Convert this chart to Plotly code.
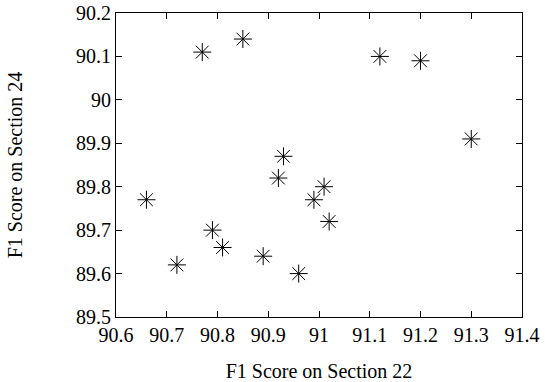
import plotly.graph_objects as go

x_vals = [90.66, 90.72, 90.77, 90.79, 90.81, 90.85, 90.89, 90.92, 90.93, 90.96, 90.99, 91.01, 91.02, 91.12, 91.20, 91.30]
y_vals = [89.77, 89.62, 90.11, 89.70, 89.66, 90.14, 89.64, 89.82, 89.87, 89.60, 89.77, 89.80, 89.72, 90.10, 90.09, 89.91]
x_ticks = [90.6, 90.7, 90.8, 90.9, 91.0, 91.1, 91.2, 91.3, 91.4]
x_tick_text = ["90.6", "90.7", "90.8", "90.9", "91", "91.1", "91.2", "91.3", "91.4"]
y_ticks = [89.5, 89.6, 89.7, 89.8, 89.9, 90.0, 90.1, 90.2]
y_tick_text = ["89.5", "89.6", "89.7", "89.8", "89.9", "90", "90.1", "90.2"]

fig = go.Figure()
fig.add_trace(go.Scatter(
    x=x_vals, y=y_vals, mode="markers",
    marker=dict(symbol="asterisk-open", size=15, color="black",
                line=dict(color="black", width=1)),
    showlegend=False,
))

font = dict(family="Liberation Serif", size=20, color="black")
axis_common = dict(
    showgrid=False, zeroline=False, showline=True, linecolor="black", linewidth=1,
    mirror="allticks", ticks="inside", ticklen=6, tickcolor="black", tickwidth=1,
    tickfont=font, ticklabeloverflow="allow", automargin=False,
)
fig.update_layout(
    width=545, height=382,
    margin=dict(l=116, r=23, t=13, b=65),
    paper_bgcolor="white", plot_bgcolor="white",
    font=font,
    xaxis=dict(range=[90.6, 91.4], tickvals=x_ticks, ticktext=x_tick_text,
               title=dict(text="F1 Score on Section 22", font=font, standoff=20),
               **axis_common),
    yaxis=dict(range=[89.5, 90.2], tickvals=y_ticks, ticktext=y_tick_text,
               title=dict(text="F1 Score on Section 24", font=font, standoff=48),
               **axis_common),
)
fig.write_html("out.html", config={"displayModeBar": False},
               post_script="document.body.style.margin='0';")
